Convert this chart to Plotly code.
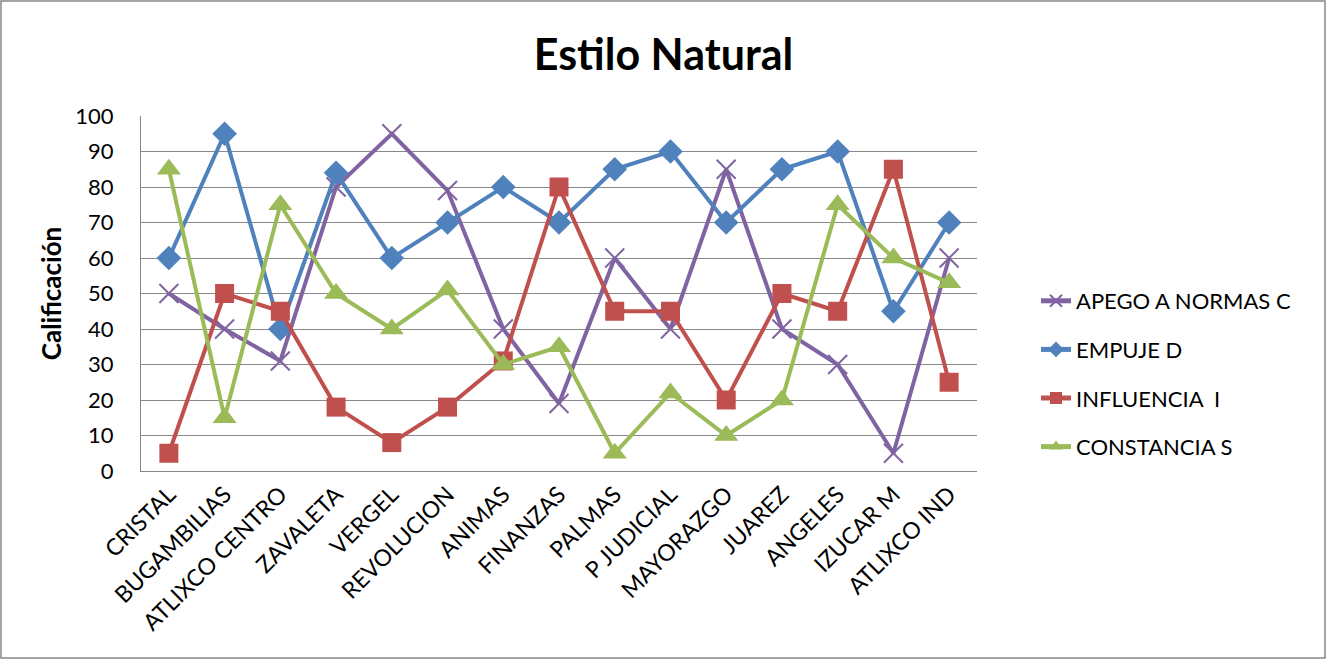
import plotly.graph_objects as go

categorias = ["CRISTAL", "BUGAMBILIAS", "ATLIXCO CENTRO", "ZAVALETA", "VERGEL",
              "REVOLUCION", "ANIMAS", "FINANZAS", "PALMAS", "P JUDICIAL",
              "MAYORAZGO", "JUAREZ", "ANGELES", "IZUCAR M", "ATLIXCO IND"]

apego_c = [50, 40, 31, 80, 95, 79, 40, 19, 60, 40, 85, 40, 30, 5, 60]
empuje_d = [60, 95, 40, 84, 60, 70, 80, 70, 85, 90, 70, 85, 90, 45, 70]
influencia_i = [5, 50, 45, 18, 8, 18, 31, 80, 45, 45, 20, 50, 45, 85, 25]
constancia_s = [85, 15, 75, 50, 40, 51, 30, 35, 5, 22, 10, 20, 75, 60, 53]

y_ticks = list(range(0, 101, 10))

FONT = "Lato, 'Open Sans', sans-serif"

W, H = 1327, 660
L, R, T, B = 141, 350, 116, 189
pw, ph = W - L - R, H - T - B

fig = go.Figure()

series = [
    ("APEGO A NORMAS C", apego_c, "#8064A2", dict(symbol="x-thin", size=19,
                                                   line=dict(color="#8064A2", width=2))),
    ("EMPUJE D", empuje_d, "#4F81BD", dict(symbol="diamond", size=19)),
    ("INFLUENCIA  I", influencia_i, "#C0504D", dict(symbol="square", size=19)),
    ("CONSTANCIA S", constancia_s, "#9BBB59", dict(symbol="triangle-up", size=21)),
]

for name, vals, color, mk in series:
    fig.add_trace(go.Scatter(
        x=categorias, y=vals, name=name, legendgroup=name, mode="lines+markers",
        line=dict(color=color, width=4),
        marker=dict(color=color, **mk),
    ))

fig.update_layout(
    width=W, height=H,
    margin=dict(l=L, r=R, t=T, b=B, autoexpand=False),
    paper_bgcolor="white", plot_bgcolor="white",
    font=dict(family=FONT, color="#000000"),
    title=dict(text="<b>Estilo Natural</b>", x=0.5, xref="container",
               y=1 - 55 / H, yanchor="middle",
               font=dict(size=43, family=FONT, color="#000000")),
    showlegend=True,
    legend=dict(x=(1036 - L) / pw, xanchor="left", y=(471 - 374) / ph,
                yanchor="middle", font=dict(size=22, family=FONT),
                tracegroupgap=17, itemsizing="constant",
                bgcolor="rgba(0,0,0,0)"),
    xaxis=dict(type="category", tickangle=-45, tickfont=dict(size=23),
               showgrid=False, showline=True, linecolor="#868686", linewidth=1,
               ticks="", range=[-0.5, len(categorias) - 0.5]),
    yaxis=dict(range=[0, 100], tickvals=y_ticks, tickfont=dict(size=22),
               showgrid=True, gridcolor="#898989", gridwidth=1,
               showline=True, linecolor="#868686", linewidth=1,
               ticks="", ticklabelstandoff=22,
               zeroline=False,
               title=dict(text="<b>Calificación</b>", font=dict(size=26),
                          standoff=6)),
)

# outer chart border
fig.add_shape(type="rect", xref="paper", yref="paper",
              x0=(1 - L) / pw, x1=(W - 2 - L) / pw,
              y0=-(H - 2 - T - ph) / ph, y1=(T - 1) / ph + 1,
              line=dict(color="#868686", width=1.5), fillcolor="rgba(0,0,0,0)",
              layer="below")

fig.write_html("out.html")
